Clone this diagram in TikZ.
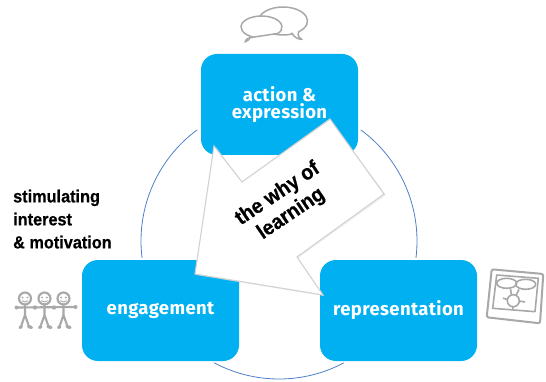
\documentclass[tikz,border=0pt]{standalone}
\usepackage{fontspec}
\setmainfont[BoldFeatures={FakeBold=0.5}]{Liberation Sans}
\newfontfamily\labelfont[LetterSpace=2.0]{Fira Sans}
\usetikzlibrary{calc}
\definecolor{boxblue}{HTML}{00B0F0}
\definecolor{arcblue}{HTML}{4F7FC8}
\definecolor{icongray}{HTML}{A8A8A8}
\definecolor{edgegray}{HTML}{D2D2D2}
\tikzset{
  x=1pt,y=1pt,
  boxnode/.style={fill=boxblue,draw=none,rounded corners=16pt,minimum width=157pt,minimum height=101pt,inner sep=0pt,align=center,text=white,font=\labelfont\fontsize{18.5}{17}\selectfont\bfseries},
  ringarc/.style={draw=arcblue,line width=0.8pt},
  bubble/.style={draw=icongray,line width=1.5pt,fill=white,line join=round},
  stick/.style={draw=icongray,line width=2.1pt,line cap=round},
  photo/.style={draw=icongray,line width=1.6pt,line join=round},
  sidetext/.style={inner sep=0pt,align=left,anchor=north west,xscale=0.93,font=\fontsize{17.5}{23}\selectfont\bfseries},
  arrowtext/.style={inner sep=0pt,align=center,rotate=34,xscale=0.93,font=\fontsize{21}{24}\selectfont\bfseries}
}
\begin{document}
\begin{tikzpicture}
\useasboundingbox (0,0) rectangle (546,-382);
% ring arcs
\coordinate (rc) at (279,-241);
\draw[ringarc] (rc) ++(53.6:138pt) arc[start angle=53.6,end angle=-7,radius=138pt];
\draw[ringarc] (rc) ++(126.4:138pt) arc[start angle=126.4,end angle=187,radius=138pt];
\draw[ringarc] (rc) ++(242:138pt) arc[start angle=242,end angle=298,radius=138pt];
% boxes
\node[boxnode] (action) at (279.5,-104.5) {action \&\\expression};
\node[boxnode] (engage) at (160.5,-310.5) {engagement};
\node[boxnode] (repr) at (398.5,-310.5) {representation};
% big arrow
\draw[fill=black!12,draw=none,opacity=0.55] (216,-147) -- (243,-184) -- (331,-121) -- (386,-195) -- (298,-258) -- (324,-296) -- (196,-275) -- cycle;
\draw[fill=white,draw=edgegray,line width=1.1pt,line join=miter] (214,-146) -- (242,-182) -- (330,-119) -- (384,-194) -- (297,-257) -- (323,-295) -- (195,-274) -- cycle;
\node[arrowtext] (why) at (284.5,-204) {the why of\\learning};
% side text
\node[sidetext] (side) at (13,-189.5) {stimulating\\interest\\\& motivation};
% speech bubbles
\draw[bubble] (302,-39.5) .. controls (297,-39) and (294,-37) .. (292,-33.2)
  -- ($(283,-21)+(-70:24.5pt and 14pt)$) arc[start angle=-70,end angle=-410,x radius=24.5pt,y radius=14pt]
  .. controls (297,-35) and (299,-38) .. cycle;
\draw[bubble] (245,-42) .. controls (248,-41) and (250,-39) .. (250.5,-36.5)
  -- ($(261.5,-27)+(-115:20.5pt and 11pt)$) arc[start angle=-115,end angle=-395,x radius=20.5pt,y radius=11pt]
  .. controls (250,-38) and (246,-37) .. (245,-42) -- cycle;
% stick figures
\foreach \px in {25,44.5,63.5}{
  \draw[stick,fill=white] (\px,-298.5) circle (6pt);
  \fill[icongray] (\px-2.3,-297.5) circle (1pt) (\px+2.3,-297.5) circle (1pt);
  \draw[stick,line width=0.9pt] (\px-3,-300.8) .. controls (\px-1,-302.3) and (\px+1,-302.3) .. (\px+3,-300.8);
  \draw[stick] (\px,-304.5) -- (\px,-315) -- (\px-3.5,-325) (\px,-315) -- (\px+3.5,-325);
  \draw[stick,line width=3.2pt] (\px-3.5,-326.5) -- (\px-5,-327.5) (\px+3.5,-326.5) -- (\px+6.5,-327.5);
}
\draw[stick] (17,-307.5) -- (74,-307);
\fill[icongray] (16.5,-307.5) circle (2pt) (75.5,-307) circle (2pt) (35,-307.5) circle (2.2pt) (54,-307.5) circle (2.2pt);
% photo icon
\draw[photo,line width=2pt,rounded corners=2pt] (491.7,-269.3) -- (543.3,-274) -- (540,-323.3) -- (486.7,-317.3) -- cycle;
\draw[photo] (496.7,-275) -- (538.3,-278.3) -- (535,-311.7) -- (492.7,-308.3) -- cycle;
\draw[photo] (506.7,-283.3) ellipse (10pt and 5pt);
\draw[photo] (525.7,-284.3) ellipse (10pt and 5pt);
\draw[photo] (513.3,-300.7) circle (6pt);
\draw[photo] (503,-298) -- (507.8,-299.8) (519,-301) -- (525,-302) (513,-306.7) -- (512.7,-310) (511.5,-295) -- (510.5,-289) (516,-295.4) -- (519,-289.5);
\end{tikzpicture}
\end{document}
